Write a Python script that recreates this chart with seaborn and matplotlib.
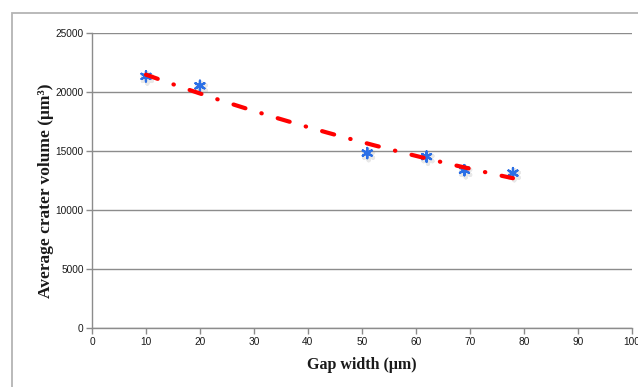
import numpy as np
import pandas as pd
import matplotlib
matplotlib.use("Agg")
import matplotlib.pyplot as plt
import matplotlib.patheffects as pe
from matplotlib.patches import Rectangle
import seaborn as sns

# ---- data ----
gap_width = [10, 20, 51, 62, 69, 78]
crater_volume = [21300, 20500, 14800, 14500, 13350, 13100]
x_ticks = [0, 10, 20, 30, 40, 50, 60, 70, 80, 90, 100]
y_ticks = [0, 5000, 10000, 15000, 20000, 25000]
x_label = "Gap width (μm)"
y_label = "Average crater volume (μm³)"

sns.set_theme(style="ticks")
plt.rcParams["font.family"] = ["Liberation Sans", "DejaVu Sans"]
plt.rcParams["lines.scale_dashes"] = False
plt.rcParams["lines.dash_capstyle"] = "round"

fig = plt.figure(figsize=(6.38, 3.87), dpi=100)
fig.patch.set_facecolor("white")

# outer chart-area border (cut off at right/bottom like the reference)
fig.add_artist(Rectangle((12 / 638, -0.2), 1.2, 0.2 + (387 - 13.3) / 387,
                         transform=fig.transFigure, fill=False,
                         edgecolor="#b4b4b4", linewidth=1.3))

ax = fig.add_axes([92 / 638, (387 - 327.7) / 387, 539.7 / 638, 295 / 387])

df = pd.DataFrame({"gap": gap_width, "vol": crater_volume})

# markers
sns.scatterplot(data=df, x="gap", y="vol", marker=(6, 2, 0), s=55,
                color="#2b6fe6", linewidth=1.6, ax=ax, zorder=3,
                path_effects=[pe.SimpleLineShadow(offset=(1, -1.5), shadow_color="gray",
                                                  alpha=0.18, linewidth=3),
                              pe.Normal()])

# exponential trendline fitted to the data
coef = np.polyfit(df["gap"], np.log(df["vol"]), 1)
xs = np.linspace(min(gap_width), max(gap_width), 200)
trend = pd.DataFrame({"gap": xs, "vol": np.exp(np.polyval(coef, xs))})
sns.lineplot(data=trend, x="gap", y="vol", color="#ff0000", linewidth=3,
             linestyle=(0, (9, 12, 0.3, 12)), ax=ax, zorder=4)

ax.set_xlim(0, 100)
ax.set_ylim(0, 25000)
ax.set_xticks(x_ticks)
ax.set_yticks(y_ticks)
ax.yaxis.grid(True, color="#8c8c8c", linewidth=1)
ax.xaxis.grid(False)
for s in ["top", "right"]:
    ax.spines[s].set_visible(False)
for s in ["left", "bottom"]:
    ax.spines[s].set_color("#8c8c8c")
    ax.spines[s].set_linewidth(1)
ax.tick_params(axis="both", direction="out", length=4, width=1, color="#8c8c8c",
               labelsize=7.3, labelcolor="#1a1a1a", left=True, bottom=True)
ax.tick_params(axis="x", pad=3)
ax.tick_params(axis="y", pad=2)

serif = ["Liberation Serif", "DejaVu Serif"]
ax.set_xlabel(x_label, labelpad=7, family=serif, weight="bold", size=11.5, color="#1a1a1a")
ax.set_ylabel(y_label, family=serif, weight="bold", size=12.5, color="#1a1a1a")
ax.yaxis.set_label_coords(-0.07, 0.465)

fig.savefig("out.png", dpi=100)
